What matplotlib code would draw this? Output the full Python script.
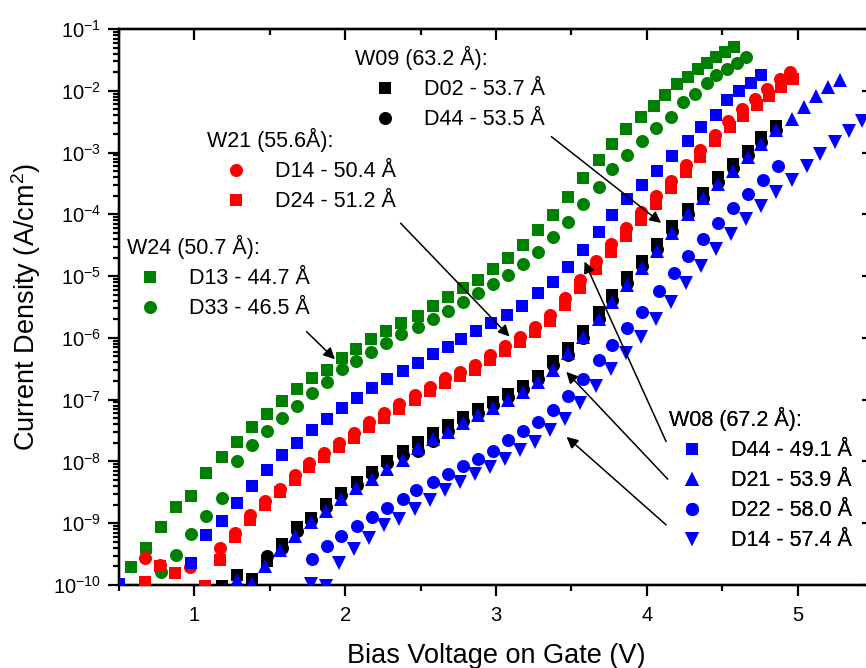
import matplotlib
matplotlib.use("Agg")
import matplotlib.pyplot as plt
from matplotlib.lines import Line2D
from matplotlib.ticker import LogLocator, MultipleLocator, NullFormatter

plt.rcParams['font.family'] = ['Liberation Sans', 'DejaVu Sans']
plt.rcParams['axes.unicode_minus'] = False
plt.rcParams['mathtext.default'] = 'regular'

# ---------------- data (bias voltage V, current density A/cm^2) ----------------
# W24 (50.7 A)
w24_d13_v = [0.58,0.68,0.78,0.88,0.98,1.08,1.18,1.28,1.38,1.48,1.58,1.68,1.78,1.88,1.98,
             2.07,2.17,2.27,2.37,2.48,2.58,2.68,2.78,2.88,2.98,3.08,3.18,3.28,3.38,3.48,
             3.58,3.68,3.77,3.86,3.96,4.05,4.12,4.20,4.27,4.34,4.40,4.46,4.52,4.58]
w24_d13_j = [1.95e-10,4.0e-10,8.8e-10,1.85e-9,2.8e-9,6.4e-9,1.19e-8,2.05e-8,3.56e-8,5.8e-8,
             9.56e-8,1.48e-7,2.23e-7,3.04e-7,4.75e-7,6.6e-7,9.5e-7,1.3e-6,1.73e-6,2.28e-6,
             3.23e-6,4.66e-6,6.37e-6,8.7e-6,1.29e-5,2.0e-5,3.19e-5,5.6e-5,9.8e-5,1.89e-4,
             3.84e-4,7.5e-4,1.38e-3,2.37e-3,3.72e-3,5.63e-3,8.55e-3,1.28e-2,1.67e-2,2.22e-2,
             2.84e-2,3.49e-2,4.25e-2,5.05e-2]
w24_d33_v = [0.78,0.88,0.98,1.08,1.18,1.28,1.38,1.48,1.58,1.68,1.78,1.88,1.98,2.07,2.17,
             2.27,2.37,2.48,2.58,2.68,2.78,2.88,2.98,3.08,3.18,3.28,3.38,3.48,3.58,3.68,
             3.77,3.87,3.97,4.06,4.16,4.24,4.32,4.40,4.46,4.53,4.60,4.66]
w24_d33_j = [1.62e-10,3.1e-10,6.6e-10,1.33e-9,2.55e-9,1.0e-8,1.86e-8,3.1e-8,5.08e-8,7.94e-8,
             1.26e-7,1.91e-7,3.15e-7,4.2e-7,5.87e-7,8.2e-7,1.14e-6,1.52e-6,2.03e-6,2.77e-6,
             3.87e-6,5.39e-6,7.48e-6,1.05e-5,1.55e-5,2.45e-5,4.23e-5,7.6e-5,1.47e-4,2.8e-4,
             5.37e-4,9.1e-4,1.55e-3,2.48e-3,3.8e-3,6.6e-3,8.9e-3,1.33e-2,1.79e-2,2.27e-2,
             2.85e-2,3.52e-2]

# W21 (55.6 A)
w21_d14_v = [0.67,0.77,0.97,1.17,1.27,1.37,1.47,1.57,1.67,1.76,1.86,1.96,2.06,2.16,2.26,
             2.36,2.46,2.56,2.66,2.76,2.86,2.96,3.06,3.16,3.26,3.36,3.46,3.56,3.66,3.76,
             3.86,3.96,4.06,4.16,4.26,4.35,4.45,4.54,4.63,4.72,4.80,4.88,4.95]
w21_d14_j = [2.7e-10,2.14e-10,1.93e-10,3.96e-10,6.9e-10,1.37e-9,2.28e-9,3.6e-9,5.95e-9,9.4e-9,
             1.39e-8,2.02e-8,2.87e-8,4.3e-8,6.04e-8,8.46e-8,1.2e-7,1.63e-7,2.23e-7,2.85e-7,
             3.66e-7,5.3e-7,7.4e-7,1.05e-6,1.52e-6,2.36e-6,4.4e-6,8.6e-6,1.74e-5,3.32e-5,
             6.0e-5,1.09e-4,1.96e-4,3.47e-4,6.23e-4,1.1e-3,1.94e-3,3.28e-3,5.08e-3,7.37e-3,
             1.08e-2,1.54e-2,2.01e-2]
w21_d24_v = [0.67,0.77,0.87,1.07,1.17,1.27,1.37,1.47,1.57,1.67,1.76,1.86,1.96,2.06,2.16,
             2.26,2.36,2.46,2.56,2.66,2.76,2.86,2.96,3.06,3.16,3.26,3.36,3.46,3.56,3.66,
             3.76,3.86,3.96,4.06,4.16,4.26,4.35,4.45,4.55,4.64,4.73,4.81,4.89,4.97]
w21_d24_j = [1.1e-10,2.0e-10,1.55e-10,9.8e-11,2.55e-10,6.0e-10,1.14e-9,1.95e-9,3.22e-9,5.1e-9,
             8.1e-9,1.2e-8,1.74e-8,2.44e-8,3.63e-8,5.08e-8,7.1e-8,9.9e-8,1.36e-7,1.84e-7,
             2.38e-7,3.04e-7,4.32e-7,6.05e-7,8.6e-7,1.23e-6,1.88e-6,3.42e-6,6.44e-6,1.28e-5,
             2.46e-5,4.47e-5,8.1e-5,1.47e-4,2.62e-4,4.76e-4,8.5e-4,1.51e-3,2.55e-3,3.91e-3,
             5.78e-3,8.2e-3,1.14e-2,1.54e-2]

# W09 (63.2 A)
w09_d02_v = [1.18,1.28,1.38,1.48,1.58,1.68,1.77,1.87,1.97,2.08,2.18,2.28,2.38,2.48,2.58,
             2.68,2.78,2.88,2.98,3.08,3.18,3.28,3.38,3.48,3.58,3.68,3.77,3.87,3.97,4.07,
             4.17,4.27,4.37,4.47,4.57,4.67,4.76,4.86]
w09_d02_j = [9.7e-11,1.43e-10,1.25e-10,2.42e-10,4.6e-10,8.6e-10,1.21e-9,2.06e-9,3.14e-9,4.64e-9,
             6.86e-9,1.03e-8,1.5e-8,2.1e-8,2.94e-8,3.91e-8,5.33e-8,7.1e-8,9.3e-8,1.24e-7,
             1.69e-7,2.42e-7,4.29e-7,6.8e-7,1.3e-6,2.59e-6,4.96e-6,9.7e-6,1.78e-5,3.29e-5,
             6.49e-5,1.2e-4,2.22e-4,4.03e-4,6.49e-4,1.05e-3,1.77e-3,2.72e-3]
w09_d44_v = [1.48,1.58,1.68,1.77,1.87,1.97,2.08,2.18,2.28,2.38,2.48,2.58,2.68,2.78,2.88,
             2.98,3.08,3.18,3.28,3.38,3.48,3.58,3.68,3.77,3.87,3.97,4.07,4.17,4.27,4.37,
             4.47,4.57,4.67,4.76,4.86]
w09_d44_j = [2.9e-10,4.0e-10,7.6e-10,1.14e-9,1.84e-9,2.83e-9,4.18e-9,6.3e-9,9.3e-9,1.28e-8,
             1.45e-8,2.15e-8,3.13e-8,4.54e-8,6.12e-8,8.2e-8,1.11e-7,1.5e-7,2.17e-7,3.66e-7,
             5.3e-7,1.0e-6,2.03e-6,4.12e-6,7.76e-6,1.46e-5,2.76e-5,5.38e-5,1.0e-4,1.84e-4,
             3.35e-4,5.63e-4,9.1e-4,1.48e-3,2.32e-3]

# W08 (67.2 A)
w08_d44_v = [0.50,0.98,1.08,1.18,1.28,1.38,1.48,1.58,1.68,1.78,1.88,1.98,2.08,2.18,2.28,
             2.38,2.48,2.58,2.68,2.77,2.87,2.97,3.07,3.17,3.28,3.38,3.48,3.58,3.68,3.77,
             3.87,3.97,4.07,4.17,4.27,4.36,4.46,4.53,4.61,4.69,4.76]
w08_d44_j = [1.05e-10,2.3e-10,6.5e-10,1.07e-9,2.16e-9,4.0e-9,7.3e-9,1.28e-8,2.0e-8,3.24e-8,
             4.9e-8,7.45e-8,1.05e-7,1.54e-7,2.15e-7,2.93e-7,3.98e-7,5.45e-7,7.23e-7,9.63e-7,
             1.3e-6,1.73e-6,2.36e-6,3.3e-6,5.35e-6,8.15e-6,1.41e-5,2.65e-5,5.2e-5,9.8e-5,
             1.74e-4,3.0e-4,5.1e-4,8.75e-4,1.51e-3,2.57e-3,4.07e-3,7.0e-3,1.0e-2,1.36e-2,
             1.78e-2]
w08_d21_v = [1.28,1.38,1.47,1.57,1.67,1.77,1.87,1.97,2.07,2.18,2.28,2.38,2.48,2.58,2.68,
             2.78,2.88,2.98,3.08,3.18,3.28,3.38,3.48,3.58,3.68,3.77,3.87,3.97,4.07,4.17,
             4.27,4.37,4.47,4.57,4.67,4.76,4.86,4.96,5.04,5.12,5.20,5.28]
w08_d21_j = [1.19e-10,1.06e-10,2.0e-10,3.67e-10,6.1e-10,1.03e-9,1.6e-9,2.46e-9,3.7e-9,5.23e-9,
             7.6e-9,1.06e-8,1.64e-8,2.29e-8,3.05e-8,4.17e-8,5.68e-8,7.28e-8,9.9e-8,1.35e-7,
             1.96e-7,3.04e-7,5.66e-7,1.04e-6,2.0e-6,3.87e-6,7.2e-6,1.34e-5,2.59e-5,5.05e-5,
             1.0e-4,1.82e-4,3.1e-4,5.1e-4,8.4e-4,1.38e-3,2.28e-3,3.53e-3,5.41e-3,8.18e-3,
             1.14e-2,1.52e-2]
w08_d22_v = [1.78,1.88,1.97,2.08,2.18,2.28,2.38,2.47,2.58,2.68,2.78,2.88,2.98,3.08,3.18,
             3.28,3.38,3.48,3.58,3.68,3.77,3.87,3.97,4.08,4.18,4.27,4.37,4.47,4.57,4.67,
             4.77,4.87]
w08_d22_j = [2.59e-10,4.3e-10,6.1e-10,9.1e-10,1.24e-9,1.78e-9,2.46e-9,3.51e-9,4.63e-9,6.37e-9,
             8.55e-9,1.11e-8,1.47e-8,2.22e-8,3.09e-8,4.37e-8,6.83e-8,1.15e-7,2.15e-7,4.4e-7,
             7.7e-7,1.43e-6,2.66e-6,5.76e-6,1.11e-5,2.13e-5,4.0e-5,7.18e-5,1.25e-4,2.14e-4,
             3.54e-4,6.02e-4]
w08_d14_v = [1.77,1.87,1.96,2.06,2.16,2.26,2.36,2.46,2.56,2.66,2.76,2.86,2.96,3.06,3.16,
             3.26,3.36,3.46,3.56,3.66,3.76,3.86,3.96,4.06,4.16,4.26,4.36,4.46,4.56,4.66,
             4.76,4.86,4.96,5.06,5.15,5.25,5.34,5.43]
w08_d14_j = [1.04e-10,9.6e-11,2.26e-10,3.8e-10,5.74e-10,9.3e-10,1.19e-9,1.71e-9,2.42e-9,3.4e-9,
             4.59e-9,6.35e-9,8.27e-9,1.09e-8,1.52e-8,2.1e-8,3.24e-8,4.89e-8,8.78e-8,1.67e-7,
             3.15e-7,5.78e-7,1.05e-6,2.0e-6,3.87e-6,7.67e-6,1.46e-5,2.72e-5,4.76e-5,8.27e-5,
             1.36e-4,2.3e-4,3.56e-4,6.02e-4,9.6e-4,1.5e-3,2.24e-3,3.22e-3]

# legend labels
w09_title = "W09 (63.2 Å):"
w09_labels = ["D02 - 53.7 Å", "D44 - 53.5 Å"]
w21_title = "W21 (55.6Å):"
w21_labels = ["D14 - 50.4 Å", "D24 - 51.2 Å"]
w24_title = "W24 (50.7 Å):"
w24_labels = ["D13 - 44.7 Å", "D33 - 46.5 Å"]
w08_title = "W08 (67.2 Å):"
w08_labels = ["D44 - 49.1 Å", "D21 - 53.9 Å", "D22 - 58.0 Å", "D14 - 57.4 Å"]

GREEN = "#008000"
RED = "#ff0000"
BLUE = "#0000ff"
BLACK = "#000000"

# ---------------- figure ----------------
W, H = 866, 668
fig = plt.figure(figsize=(W / 100, H / 100), dpi=100)
ax_l, ax_r, ax_t, ax_b = 119, 873, 29, 585
ax = fig.add_axes([ax_l / W, 1 - ax_b / H, (ax_r - ax_l) / W, (ax_b - ax_t) / H])
ax.set_xscale('linear')
ax.set_yscale('log')
ax.set_xlim(0.5, 5.5)
ax.set_ylim(1e-10, 1e-1)

MS_SQ, MS_CI, MS_TR = 8.4, 9.4, 9.6
def pts(x, y, marker, color, ms, z):
    return ax.plot(x, y, linestyle='none', marker=marker, color=color, ms=ms,
                   mec=color, mew=0, zorder=z)[0]

h_w24_d13 = pts(w24_d13_v, w24_d13_j, 's', GREEN, MS_SQ, 3)
h_w24_d33 = pts(w24_d33_v, w24_d33_j, 'o', GREEN, MS_CI, 3)
h_w21_d24 = pts(w21_d24_v, w21_d24_j, 's', RED, MS_SQ, 3)
h_w21_d14 = pts(w21_d14_v, w21_d14_j, 'o', RED, MS_CI, 3.1)
h_w09_d44 = pts(w09_d44_v, w09_d44_j, 'o', BLACK, MS_CI, 2.9)
h_w09_d02 = pts(w09_d02_v, w09_d02_j, 's', BLACK, MS_SQ, 3)
h_w08_d44 = pts(w08_d44_v, w08_d44_j, 's', BLUE, MS_SQ, 3.2)
h_w08_d22 = pts(w08_d22_v, w08_d22_j, 'o', BLUE, MS_CI, 3.2)
h_w08_d14 = pts(w08_d14_v, w08_d14_j, 'v', BLUE, MS_TR, 3.1)
h_w08_d21 = pts(w08_d21_v, w08_d21_j, '^', BLUE, MS_TR, 3.3)

# ---------------- axes styling ----------------
LW = 1.6
for s in ax.spines.values():
    s.set_linewidth(LW)
ax.xaxis.set_major_locator(MultipleLocator(1))
ax.xaxis.set_minor_locator(MultipleLocator(0.5))
ax.yaxis.set_major_locator(LogLocator(base=10, numticks=20))
ax.yaxis.set_minor_locator(LogLocator(base=10, subs=range(2, 10), numticks=20))
ax.yaxis.set_minor_formatter(NullFormatter())
ax.tick_params(which='major', direction='out', length=8, width=LW, labelsize=14.5, pad=5)
ax.tick_params(which='minor', direction='out', length=4.5, width=LW)
ax.tick_params(axis='x', which='major', pad=7)

axr = ax.twinx()
axr.set_yscale('log')
axr.set_ylim(ax.get_ylim())
axr.yaxis.set_major_locator(LogLocator(base=10, numticks=20))
axr.yaxis.set_minor_locator(LogLocator(base=10, subs=range(2, 10), numticks=20))
axr.tick_params(which='major', direction='in', length=8, width=LW, labelright=False)
axr.tick_params(which='minor', direction='in', length=4.5, width=LW, labelright=False)
axt = ax.twiny()
axt.set_xlim(ax.get_xlim())
axt.xaxis.set_major_locator(MultipleLocator(1))
axt.xaxis.set_minor_locator(MultipleLocator(0.5))
axt.tick_params(which='major', direction='in', length=8, width=LW, labeltop=False)
axt.tick_params(which='minor', direction='in', length=4.5, width=LW, labeltop=False)
for a in (axr, axt):
    for s in a.spines.values():
        s.set_linewidth(LW)
    a.set_zorder(ax.get_zorder() - 1)
ax.patch.set_visible(False)

ax.set_xlabel("Bias Voltage on Gate (V)", fontsize=19.5)
ax.set_ylabel("Current Density (A/cm$^2$)", fontsize=19.5)
ax.xaxis.set_label_coords(0.5, -0.104)
ax.yaxis.set_label_coords(-0.101, 0.5)

# ---------------- legends ----------------
FS = 15.5
def add_legend(handles, labels, title, px, py, hl, htp):
    leg = ax.legend(handles, labels, title=title, loc='upper left',
                    bbox_to_anchor=(px / W, 1 - py / H), bbox_transform=fig.transFigure,
                    frameon=False, fontsize=FS, title_fontsize=FS, borderpad=0,
                    borderaxespad=0, handlelength=hl, handletextpad=htp,
                    labelspacing=0.42, numpoints=1, alignment='left')
    ax.add_artist(leg)
    return leg

add_legend([h_w09_d02, h_w09_d44], w09_labels, w09_title, 355, 46, 2.79, 0.42)
add_legend([h_w21_d14, h_w21_d24], w21_labels, w21_title, 207, 128, 2.74, 0.44)
add_legend([h_w24_d13, h_w24_d33], w24_labels, w24_title, 127, 235, 2.14, 0.74)
add_legend([h_w08_d44, h_w08_d21, h_w08_d22, h_w08_d14], w08_labels, w08_title,
           669, 407, 2.14, 0.74)

# ---------------- arrows ----------------
arrows = [
    ((4.095, 7.26e-5), (3.367, 1.81e-3)),
    ((3.09, 1.05e-6), (2.367, 7.2e-5)),
    ((1.932, 4.52e-7), (1.744, 1.26e-6)),
    ((3.587, 1.72e-5), (4.128, 2.1e-8)),
    ((3.466, 2.82e-7), (4.139, 5.17e-9)),
    ((3.468, 2.5e-8), (4.128, 9.4e-10)),
]
for head, tail in arrows:
    ax.annotate("", xy=head, xytext=tail,
                arrowprops=dict(arrowstyle='-|>', color='black', lw=1.1,
                                mutation_scale=17, shrinkA=0, shrinkB=0),
                zorder=5)

fig.savefig("out.png", dpi=100)
